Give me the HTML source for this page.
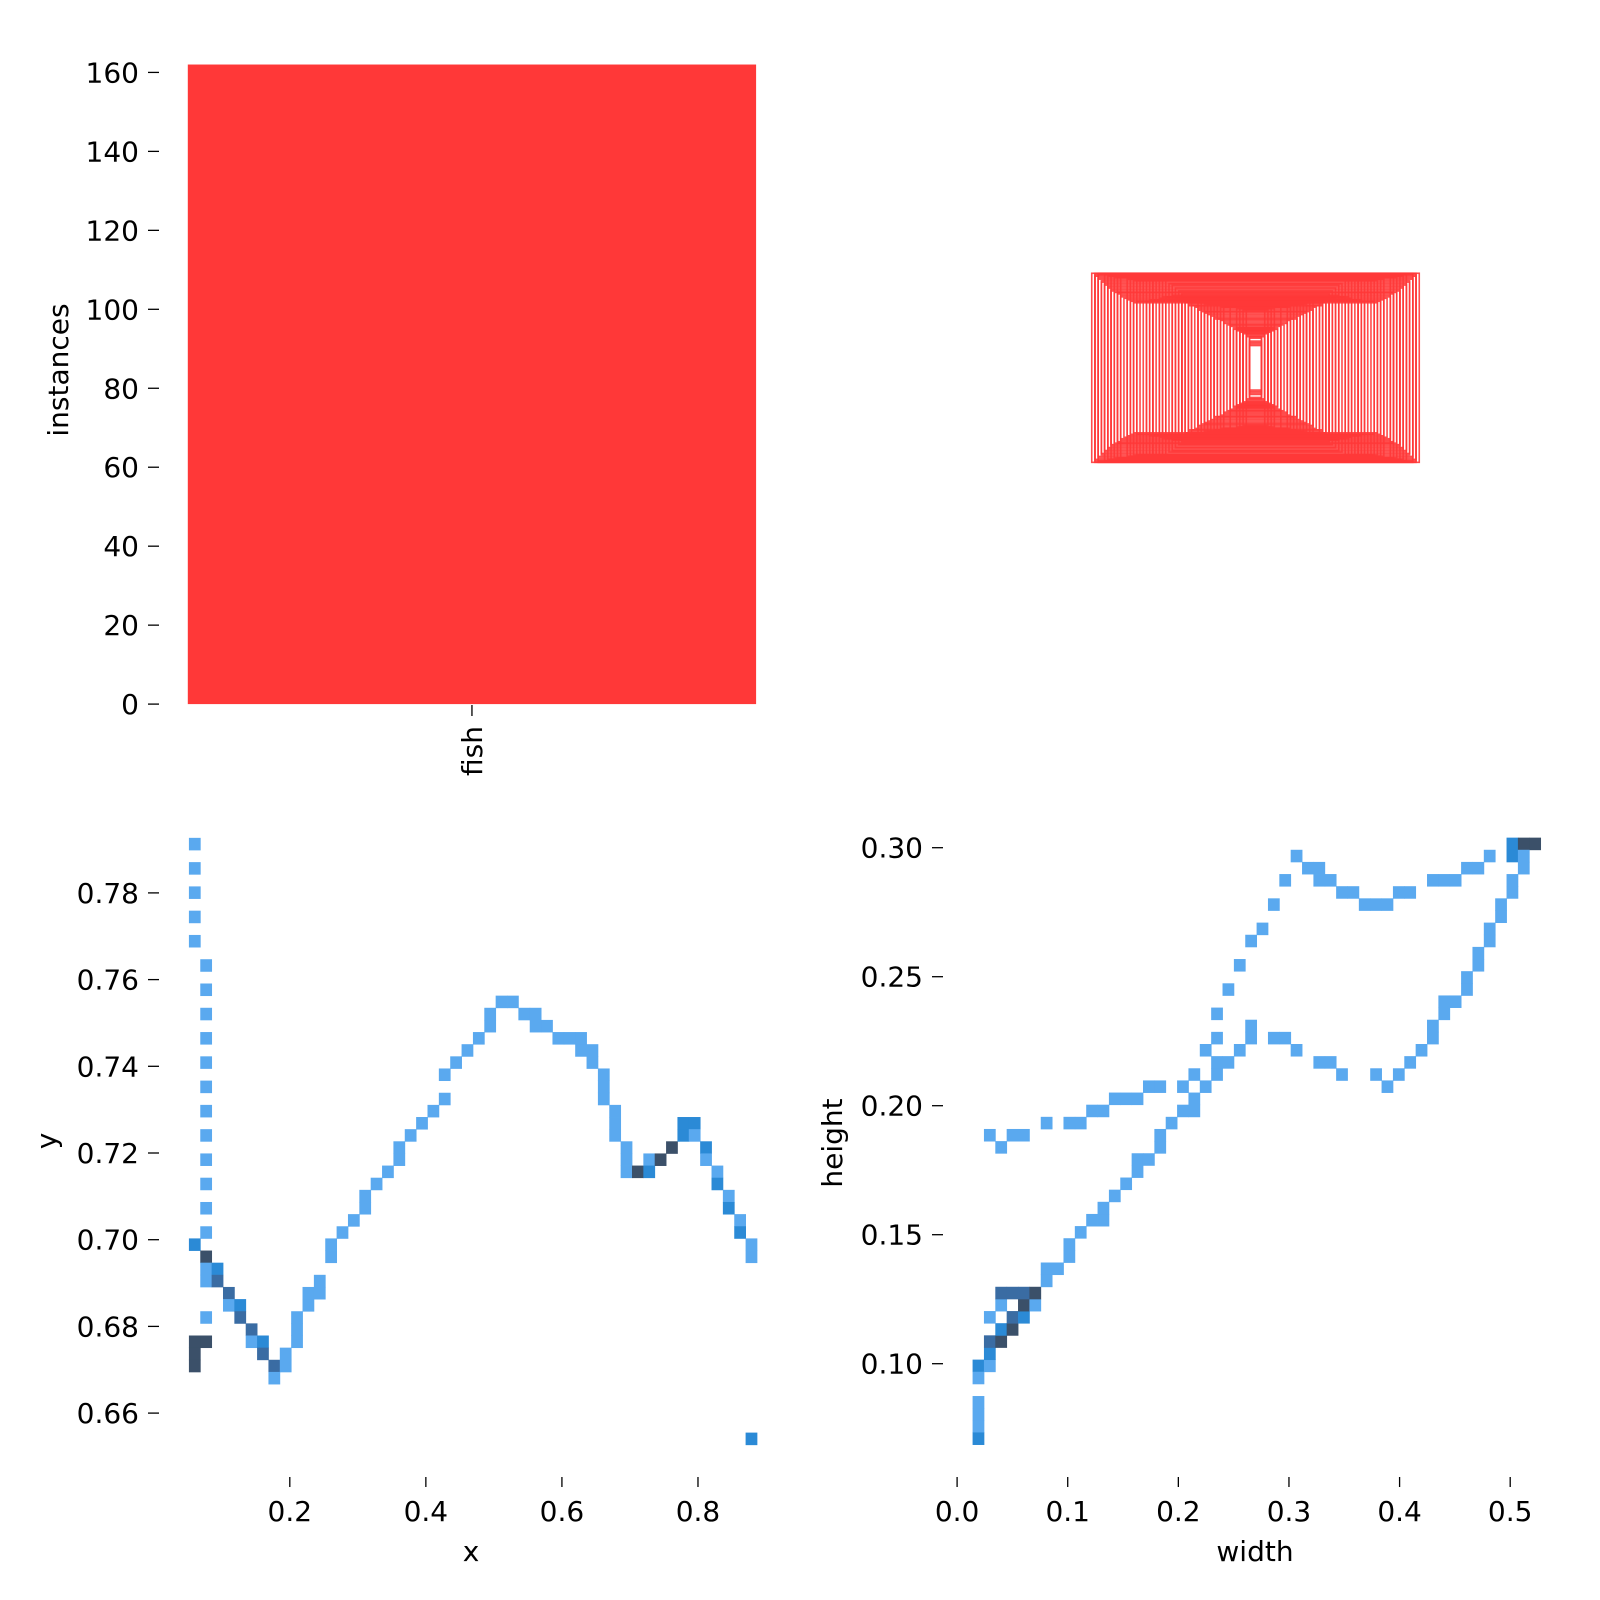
<!DOCTYPE html>
<html><head><meta charset="utf-8">
<style>
html,body{margin:0;padding:0;background:#fff;}
svg{display:block;}
text{font-family:"DejaVu Sans","Liberation Sans",sans-serif;fill:#000;}
</style></head>
<body>
<svg id="chart" width="1600" height="1600" viewBox="0 0 1600 1600" xmlns="http://www.w3.org/2000/svg">
<rect x="0" y="0" width="1600" height="1600" fill="#fff"/>
<g id="barPanel"></g>
<g id="boxPanel"></g>
<g id="xyPanel"></g>
<g id="whPanel"></g>
</svg>
<script>
// ---------- data ----------
const barCategories = ["fish"];
const barValues = [162];
const barTicks = [0, 20, 40, 60, 80, 100, 120, 140, 160];

const xyXTicks = [0.2, 0.4, 0.6, 0.8];
const xyYTicks = [0.66, 0.68, 0.70, 0.72, 0.74, 0.76, 0.78];
const xyBinX0 = 0.0517, xyBinW = 0.0167, xyBinYTop = 0.7927, xyBinH = 0.0028;
// [xBin, yBin(from top), level]
const xyCells = [
[0,0,1],[0,2,1],[0,4,1],[0,6,1],[0,8,1],[0,33,2],[0,41,4],[0,42,4],[0,43,4],
[1,10,1],[1,12,1],[1,14,1],[1,16,1],[1,18,1],[1,20,1],[1,22,1],[1,24,1],[1,26,1],[1,28,1],[1,30,1],[1,32,1],
[1,34,4],[1,35,1],[1,36,1],[1,39,1],[1,41,4],
[2,35,2],[2,36,3],[3,37,3],[3,38,1],[4,38,2],[4,39,3],[5,40,3],[5,41,1],[6,41,2],[6,42,3],
[7,43,3],[7,44,1],[8,42,1],[8,43,1],[9,39,1],[9,40,1],[9,41,1],[10,37,1],[10,38,1],[11,36,1],[11,37,1],
[12,33,1],[12,34,1],[13,32,1],[14,31,1],[15,29,1],[15,30,1],[16,28,1],[17,27,1],[18,25,1],[18,26,1],
[19,24,1],[20,23,1],[21,22,1],[22,21,1],[22,19,1],[23,18,1],[24,17,1],[25,16,1],[26,14,1],[26,15,1],
[27,13,1],[28,13,1],[29,14,1],[30,14,1],[30,15,1],[31,15,1],[32,16,1],[33,16,1],[34,16,1],[34,17,1],
[35,17,1],[35,18,1],[36,19,1],[36,20,1],[36,21,1],[37,22,1],[37,23,1],[37,24,1],[38,25,1],[38,26,1],[38,27,1],
[39,27,4],[40,26,1],[40,27,2],[41,26,4],[42,25,4],[43,23,2],[43,24,2],[44,23,2],[44,24,1],
[45,25,2],[45,26,1],[46,27,1],[46,28,2],[47,29,1],[47,30,2],[48,31,1],[48,32,2],[49,33,1],[49,34,1],[49,49,2]
];

const whXTicks = [0.0, 0.1, 0.2, 0.3, 0.4, 0.5];
const whYTicks = [0.10, 0.15, 0.20, 0.25, 0.30];
const whBinX0 = 0.014, whBinW = 0.01027, whBinYTop = 0.3039, whBinH = 0.004705;
const whCells = [
[1,24,1],[2,25,1],[3,24,1],[4,24,1],[6,23,1],[8,23,1],[9,23,1],[10,22,1],[11,22,1],[12,21,1],[13,21,1],[14,21,1],
[15,20,1],[16,20,1],[18,20,1],[19,19,1],[20,20,1],[21,18,1],[21,19,1],[22,18,1],[23,17,1],[24,16,1],[24,15,1],
[21,16,1],[20,17,1],[21,14,1],[22,12,1],[23,10,1],[24,8,1],[25,7,1],[26,5,1],[27,3,1],[28,1,1],[29,2,1],[30,2,1],
[30,3,1],[31,3,1],[32,4,1],[33,4,1],[34,5,1],[35,5,1],[36,5,1],[37,4,1],[38,4,1],[40,3,1],[41,3,1],[42,3,1],
[43,2,1],[44,2,1],[45,1,1],[47,0,2],[47,1,2],[48,0,4],[49,0,4],[48,1,1],[48,2,1],[47,3,1],[47,4,1],[46,5,1],[46,6,1],
[45,7,1],[45,8,1],[44,9,1],[44,10,1],[43,11,1],[43,12,1],[41,13,1],[42,13,1],[41,14,1],[40,15,1],[40,16,1],
[39,17,1],[38,18,1],[37,19,1],[35,19,1],[36,20,1],[32,19,1],[30,18,1],[31,18,1],[28,17,1],[26,16,1],[27,16,1],
[0,43,2],[1,43,1],[0,44,1],[0,46,1],[0,47,1],[0,48,1],[0,49,2],[1,42,2],[1,41,3],[2,41,4],[2,40,2],[3,40,4],
[1,39,1],[3,39,3],[4,39,2],[2,38,1],[4,38,4],[5,38,1],[2,37,3],[3,37,3],[4,37,3],[5,37,4],
[6,35,1],[6,36,1],[7,35,1],[8,33,1],[8,34,1],[9,32,1],[10,31,1],[11,31,1],[11,30,1],[12,29,1],[13,28,1],
[14,26,1],[14,27,1],[15,26,1],[16,24,1],[16,25,1],[17,23,1],[18,22,1],[19,22,1],[19,21,1]
];

// ---------- helpers ----------
const NS = "http://www.w3.org/2000/svg";
const FS = 28;
const levelColors = ["#ffffff", "#5aa9ef", "#2b8ad6", "#3a6ca3", "#3b5069"];
function mk(parent, tag, attrs, txt) {
  const el = document.createElementNS(NS, tag);
  for (const k in attrs) el.setAttribute(k, attrs[k]);
  if (txt !== undefined) el.textContent = txt;
  parent.appendChild(el);
  return el;
}

// ---------- bar panel ----------
const barG = document.getElementById("barPanel");
const barX0 = 187.8, barX1 = 756.1;
const barY = v => 704.1 - v * 3.948;
barTicks.forEach(t => {
  const tl = mk(barG, "line", {x1: 148, x2: 159, y1: barY(t), y2: barY(t), stroke: "#000", "stroke-width": 1.3});
  
  
  const tt = mk(barG, "text", {x: 139, y: barY(t) + 10, "text-anchor": "end", "font-size": FS}, String(t));
  
  
});
barCategories.forEach((c, i) => {
  const w = (barX1 - barX0) / barCategories.length;
  const r = mk(barG, "rect", {x: barX0 + i * w, y: barY(barValues[i]), width: w, height: barY(0) - barY(barValues[i]), fill: "#ff3838"});
  
  
  const cx = barX0 + (i + 0.5) * w;
  const tk = mk(barG, "line", {x1: cx, x2: cx, y1: 705, y2: 716, stroke: "#000", "stroke-width": 1.3});
  
  
  const lb = mk(barG, "text", {x: 0, y: 0, "text-anchor": "end", "font-size": FS, transform: "translate(" + (cx + 10) + ",726) rotate(-90)"}, c);
  
  
});
const barYT = mk(barG, "text", {x: 0, y: 0, "text-anchor": "middle", "font-size": FS, transform: "translate(68,370) rotate(-90)"}, "instances");



// ---------- box outline panel ----------
const boxG = document.getElementById("boxPanel");
const boxCx = 1255.5, boxCy = 367.8, boxScale = 627;
whCells.forEach(c => {
  const w = (whBinX0 + (c[0] + 0.5) * whBinW) * boxScale;
  const h = (whBinYTop - (c[1] + 0.5) * whBinH) * boxScale;
  const r = mk(boxG, "rect", {x: boxCx - w / 2, y: boxCy - h / 2, width: w, height: h, fill: "none", stroke: "#ff3838", "stroke-width": 1.6, "stroke-opacity": 0.9});
  
  
});

// ---------- heatmap panels ----------
function heatmap(g, cells, x0, bw, yTop, bh, xS, yS, xTicks, yTicks, xDec, yDec, tickXY, tickYX, xTitle, yTitle, xTitlePos, yTitlePos, nm) {
  cells.forEach(c => {
    const xa = x0 + c[0] * bw, xb = xa + bw;
    const ya = yTop - c[1] * bh, yb = ya - bh;
    const r = mk(g, "rect", {x: xS(xa), y: yS(ya), width: xS(xb) - xS(xa) + 0.4, height: yS(yb) - yS(ya) + 0.4, fill: levelColors[c[2]]});
    
    
  });
  xTicks.forEach(t => {
    const m = mk(g, "line", {x1: xS(t), x2: xS(t), y1: tickXY, y2: tickXY + 10, stroke: "#000", "stroke-width": 1.3});
    
    
    const l = mk(g, "text", {x: xS(t), y: tickXY + 44, "text-anchor": "middle", "font-size": FS}, t.toFixed(xDec));
    
    
  });
  yTicks.forEach(t => {
    const m = mk(g, "line", {x1: tickYX - 3, x2: tickYX + 8, y1: yS(t), y2: yS(t), stroke: "#000", "stroke-width": 1.3});
    
    
    const l = mk(g, "text", {x: tickYX - 12, y: yS(t) + 10, "text-anchor": "end", "font-size": FS}, t.toFixed(yDec));
    
    
  });
  const xt = mk(g, "text", {x: xTitlePos[0], y: xTitlePos[1], "text-anchor": "middle", "font-size": FS}, xTitle);
  
  
  const yt = mk(g, "text", {x: 0, y: 0, "text-anchor": "middle", "font-size": FS, transform: "translate(" + yTitlePos[0] + "," + yTitlePos[1] + ") rotate(-90)"}, yTitle);
  
  
}

const xyX = v => 289.8 + (v - 0.2) * 680.3;
const xyY = v => 892.9 - (v - 0.78) * 4335;
heatmap(document.getElementById("xyPanel"), xyCells, xyBinX0, xyBinW, xyBinYTop, xyBinH, xyX, xyY,
  xyXTicks, xyYTicks, 1, 2, 1477, 151, "x", "y", [471, 1561], [56, 1141], "xy");

const whX = v => 957.1 + v * 1106.2;
const whY = v => 847.7 - (v - 0.30) * 2580;
heatmap(document.getElementById("whPanel"), whCells, whBinX0, whBinW, whBinYTop, whBinH, whX, whY,
  whXTicks, whYTicks, 1, 2, 1477, 935, "width", "height", [1255, 1561], [842, 1143], "wh");
</script>
</body></html>
